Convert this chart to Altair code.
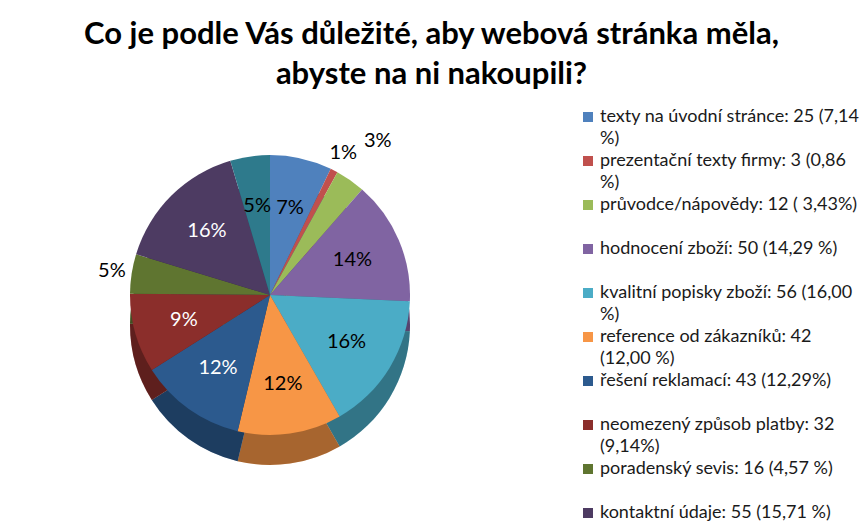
import math
import altair as alt
import pandas as pd

# ---- data -------------------------------------------------------------
categories = [
    "texty na úvodní stránce",
    "prezentační texty firmy",
    "průvodce/nápovědy",
    "hodnocení zboží",
    "kvalitní popisky zboží",
    "reference od zákazníků",
    "řešení reklamací",
    "neomezený způsob platby",
    "poradenský sevis",
    "kontaktní údaje",
    "ostatní",
]
counts = [25, 3, 12, 50, 56, 42, 43, 32, 16, 55, 16]
legend_labels = [
    "texty na úvodní stránce: 25 (7,14|%)",
    "prezentační texty firmy: 3 (0,86|%)",
    "průvodce/nápovědy: 12 ( 3,43%)",
    "hodnocení zboží: 50 (14,29 %)",
    "kvalitní popisky zboží: 56 (16,00|%)",
    "reference od zákazníků: 42|(12,00 %)",
    "řešení reklamací: 43 (12,29%)",
    "neomezený způsob platby: 32|(9,14%)",
    "poradenský sevis: 16 (4,57 %)",
    "kontaktní údaje: 55 (15,71 %)",
    "ostatní: 16 (4,57 %)",
]
title_lines = ["Co je podle Vás důležité, aby webová stránka měla,", "abyste na ni nakoupili?"]

# ---- style ------------------------------------------------------------
palette = ["#4F81BD", "#C0504D", "#9BBB59", "#8064A2", "#4BACC6", "#F79646",
           "#2C5A8E", "#8B2E2B", "#5F7530", "#4D3B62", "#2E7A8C"]
dark_slices = ["řešení reklamací", "neomezený způsob platby", "kontaktní údaje"]
near_outside = ["prezentační texty firmy", "poradenský sevis"]
far_outside = ["průvodce/nápovědy"]
FONT = "Lato"
TOP = 115
W, H = 863, 525 - TOP
CX, CY = 270, 295 - TOP
R = 140
DEPTH = 30

total = sum(counts)
df = pd.DataFrame({
    "idx": list(range(len(categories))),
    "category": categories,
    "count": counts,
    "legend": legend_labels,
})
df["pct"] = [f"{round(c / total * 100)}%" for c in counts]
outside = near_outside + far_outside
inside = [c for c in categories if c not in outside]
light_inside = [c for c in inside if c not in dark_slices]
dark_inside = [c for c in inside if c in dark_slices]

base = alt.Chart(df)
theta_scale = alt.Scale(domain=[0, total], range=[0, 2 * math.pi])
color = alt.Color("category:N", scale=alt.Scale(domain=categories, range=palette), legend=None)
theta = alt.Theta("count:Q", stack=True, scale=theta_scale)
order = alt.Order("idx:Q", sort="ascending")
cx, cy = alt.value(CX), alt.value(CY)

side = base.mark_arc(radius=R).encode(
    theta=theta, color=color, order=order, x=cx, y=alt.value(CY + DEPTH))
side_shade = base.mark_arc(radius=R, color="black", opacity=0.32).encode(
    theta=theta, order=order, x=cx, y=alt.value(CY + DEPTH))
top = base.mark_arc(radius=R).encode(
    theta=theta, color=color, order=order, x=cx, y=cy)

stacked = base.transform_stack(
    stack="count", groupby=[], as_=["start", "end"], sort=[alt.SortField("idx")]
).transform_calculate(mid="(datum.start + datum.end) / 2")
mid_theta = alt.Theta("mid:Q", scale=theta_scale)


def labels(cats, radius, col):
    return stacked.transform_filter(
        alt.FieldOneOfPredicate(field="category", oneOf=cats)
    ).mark_text(radius=radius, font=FONT, fontSize=20, color=col).encode(
        theta=mid_theta, text="pct:N", x=cx, y=cy)


lab_light = labels(light_inside, R * 0.64, "black")
lab_dark = labels(dark_inside, R * 0.64, "white")
lab_near = labels(near_outside, R + 20, "black")
lab_far = labels(far_outside, R + 48, "black")

legend_y = alt.Y("idx:Q", scale=alt.Scale(domain=[0, 10], range=[117 - TOP, 557 - TOP]), axis=None)
leg_sq = base.mark_square(size=100, opacity=1).encode(
    x=alt.value(588), y=legend_y, color=color)
leg_tx = base.transform_calculate(lines="split(datum.legend, '|')").mark_text(
    align="left", baseline="middle", font=FONT, fontSize=18, lineHeight=22, color="#1a1a1a"
).encode(x=alt.value(600), y=legend_y, text="lines:N")

chart = alt.layer(side, side_shade, top, lab_light, lab_dark, lab_near, lab_far,
                  leg_sq, leg_tx).properties(
    width=W, height=H,
    title=alt.TitleParams(title_lines, font=FONT, fontSize=31, fontWeight="bold",
                          anchor="middle", frame="group", color="black",
                          lineHeight=40, offset=9, dy=-8),
    autosize=alt.AutoSizeParams(type="none"),
    padding={"left": 0, "right": 0, "top": TOP, "bottom": 0},
    background="white",
).configure_view(stroke=None)

chart.save("out.html", embed_options={"renderer": "svg", "actions": False})
